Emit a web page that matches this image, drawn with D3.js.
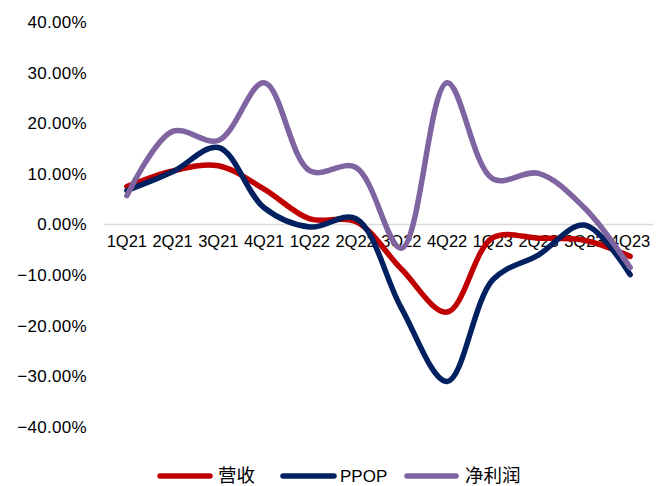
<!DOCTYPE html>
<html>
<head>
<meta charset="utf-8">
<script src="https://cdn.jsdelivr.net/npm/d3@7"></script>
<style>
  html, body { margin: 0; padding: 0; background: #fff; }
  svg { display: block; }
</style>
</head>
<body>
<svg id="chart" width="656" height="486"></svg>
<script>
// Quarterly YoY growth (%)
const quarters = ["1Q21","2Q21","3Q21","4Q21","1Q22","2Q22","3Q22","4Q22","1Q23","2Q23","3Q23","4Q23"];
const revenue = [7.5, 10.6, 11.6, 7.0, 1.1, 0.6, -8.8, -17.3, -2.6, -2.7, -3.1, -6.3];
const ppop    = [6.7, 10.4, 15.2, 3.3, -0.5, 1.2, -16.5, -31.0, -10.9, -6.0, -0.1, -9.9];
const netProfit = [5.7, 18.4, 16.6, 28.0, 10.6, 11.3, -4.7, 28.0, 9.0, 10.1, 3.3, -8.5];
const yTicks = [-40, -30, -20, -10, 0, 10, 20, 30, 40];
const seriesNames = ["营收", "PPOP", "净利润"];
const seriesColors = ["#C00000", "#002060", "#8064A2"];

const svg = d3.select("#chart");
const latinFont = "'Liberation Sans', Arial, sans-serif";
const cjkFont = "'Noto Sans CJK SC', sans-serif";

const x = d3.scaleBand().domain(quarters).range([104, 653]);
const y = d3.scaleLinear().domain([-40, 40]).range([427, 22]);

// Y axis labels (no axis line, no ticks)
const yAxis = d3.axisLeft(y).tickValues(yTicks).tickSize(0).tickPadding(0)
  .tickFormat(d => d3.format(".2f")(d) + "%");
const gy = svg.append("g").attr("transform", "translate(87,0)").call(yAxis);
gy.select(".domain").remove();
gy.selectAll("text")
  .attr("font-family", latinFont).attr("font-size", 17)
  .attr("letter-spacing", "0.3px")
  .attr("fill", "#000");

// Zero baseline
svg.append("line")
  .attr("x1", x.range()[0]).attr("x2", x.range()[1])
  .attr("y1", y(0)).attr("y2", y(0))
  .attr("stroke", "#d9d9d9").attr("stroke-width", 1.5);

// Category labels sitting just under the zero line
const xAxis = d3.axisBottom(x).tickSize(0).tickPadding(0);
const gx = svg.append("g").attr("transform", `translate(0,${y(0) + 11})`).call(xAxis);
gx.select(".domain").remove();
gx.selectAll("text")
  .attr("font-family", latinFont).attr("font-size", 16.5)
  .attr("fill", "#000").attr("dy", "0.71em");

// Smoothed series lines
const series = [revenue, ppop, netProfit];
const line = d3.line()
  .x((d, i) => x(quarters[i]) + x.bandwidth() / 2)
  .y(d => y(d))
  .curve(d3.curveCatmullRom.alpha(0.5));

series.forEach((vals, k) => {
  svg.append("path")
    .datum(vals)
    .attr("d", line)
    .attr("fill", "none")
    .attr("stroke", seriesColors[k])
    .attr("stroke-width", 5.5)
    .attr("stroke-linejoin", "round")
    .attr("stroke-linecap", "round");
});

// Legend
const legendY = 476;
const legendItems = [
  { x0: 160, x1: 210, tx: 218 },
  { x0: 283, x1: 334, tx: 340 },
  { x0: 407, x1: 456, tx: 465 }
];
legendItems.forEach((it, k) => {
  const g = svg.append("g");
  g.append("line")
    .attr("x1", it.x0).attr("x2", it.x1)
    .attr("y1", legendY).attr("y2", legendY)
    .attr("stroke", seriesColors[k]).attr("stroke-width", 5.5)
    .attr("stroke-linecap", "round");
  const isLatin = /^[A-Za-z]+$/.test(seriesNames[k]);
  g.append("text")
    .attr("x", it.tx).attr("y", legendY)
    .attr("dy", "0.35em")
    .attr("font-family", isLatin ? latinFont : cjkFont)
    .attr("font-size", isLatin ? 17 : 18.5)
    .attr("fill", "#000")
    .text(seriesNames[k]);
});
</script>
</body>
</html>
